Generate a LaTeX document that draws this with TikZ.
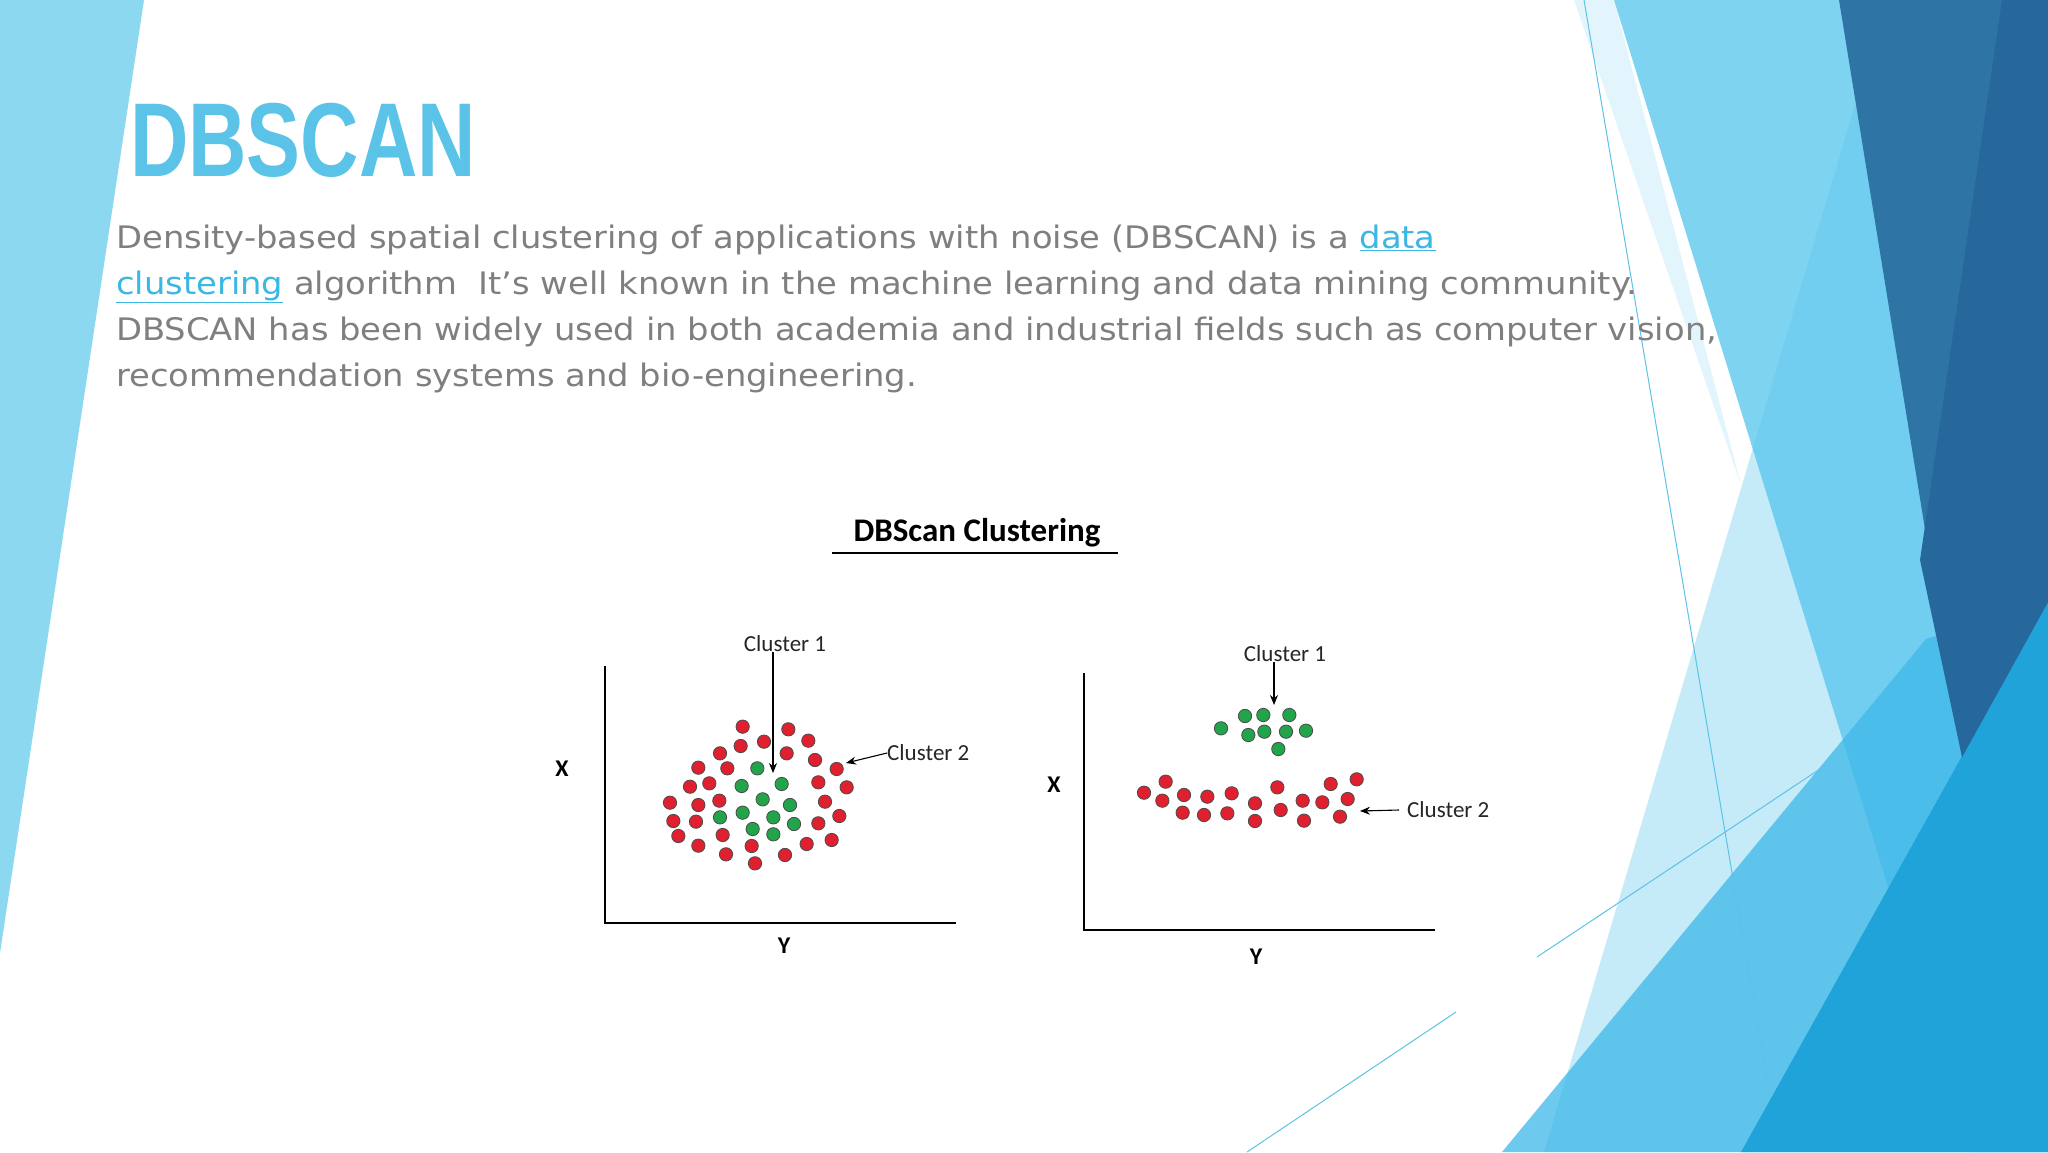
\documentclass[tikz,border=0pt]{standalone}
\usepackage{fontspec}
\setmainfont{DejaVu Sans}
\newfontfamily\headfont{Liberation Sans}
\newfontfamily\diafont{Carlito}
\usetikzlibrary{arrows.meta}
\definecolor{headblue}{HTML}{5BC3E8}
\definecolor{bodygray}{HTML}{7F7F7F}
\definecolor{linkblue}{HTML}{3BB7E4}
\definecolor{redd}{HTML}{E0202E}
\definecolor{greend}{HTML}{22A44A}
\tikzset{
  reddot/.style={fill=redd,draw=black!70,line width=0.8pt},
  greendot/.style={fill=greend,draw=black!70,line width=0.8pt},
  axis/.style={line width=2.6pt,black},
  arr/.style={-{Stealth[length=10pt,width=8pt]},line width=1.1pt},
  lbl/.style={font=\diafont\fontsize{23}{28}\selectfont,text=black!85,inner sep=0pt},
  axl/.style={font=\diafont\bfseries\fontsize{24}{28}\selectfont,inner sep=0pt},
  body/.style={anchor=base west,inner sep=0pt,text=bodygray,font=\fontsize{31}{36}\selectfont},
}
\newcommand{\widetxt}[1]{\scalebox{1.09}[1]{#1}}
\begin{document}
\begin{tikzpicture}[x=1pt,y=1pt,yscale=-1]
\useasboundingbox (0,0) rectangle (2048,1152);
\fill[white] (0,0) rectangle (2048,1152);
% left strip
\fill[fill={rgb,255:red,141;green,216;blue,241}] (0,0) -- (144,0) -- (0,953) -- cycle;
% right decorations
\fill[fill={rgb,255:red,227;green,245;blue,252}] (1574,0) -- (1614,0) -- (1741,485) -- cycle;
\fill[fill={rgb,255:red,197;green,234;blue,248}] (1886,0) -- (2048,0) -- (2048,1152) -- (1544,1152) -- cycle;
\fill[fill={rgb,255:red,94;green,200;blue,238},opacity=0.8] (1614,0) -- (2048,0) -- (2048,1152) -- (1970,1152) -- cycle;
\fill[fill={rgb,255:red,61;green,184;blue,232},opacity=0.75] (1502,1152) -- (1926,639) -- (2048,602) -- (2048,1152) -- cycle;
\fill[fill={rgb,255:red,31;green,163;blue,216}] (1741,1152) -- (2048,602) -- (2048,1152) -- cycle;
\fill[fill={rgb,255:red,46;green,117;blue,166}] (1839,0) -- (2048,0) -- (2048,602) -- (1962,757) -- cycle;
\fill[fill={rgb,255:red,38;green,103;blue,156}] (2002,0) -- (2048,0) -- (2048,602) -- (1962,757) -- (1920,560) -- cycle;
\coordinate (t1a) at (1584,0); \coordinate (t1b) at (1770,1097);
\coordinate (t2a) at (1537,957); \coordinate (t2b) at (1841,755);
\coordinate (t3a) at (1247,1152); \coordinate (t3b) at (1456,1012);
\draw[headblue,line width=1pt] (t1a) -- (t1b);
\draw[headblue,line width=1pt] (t2a) -- (t2b);
\draw[headblue,line width=1pt] (t3a) -- (t3b);
% heading
\node[anchor=base west,inner sep=0pt,text=headblue] (head) at (130,176)
  {\scalebox{0.77}[1]{\headfont\bfseries\fontsize{105}{110}\selectfont DBSCAN}};
% body
\node[body] (l1) at (116,248) {\widetxt{Density-based spatial clustering of applications with noise (DBSCAN) is a \textcolor{linkblue}{\underline{data}}}};
\node[body] (l2) at (116,294) {\widetxt{\textcolor{linkblue}{\underline{clustering}} algorithm\ \ It’s well known in the machine learning and data mining community.}};
\node[body] (l3) at (116,340) {\widetxt{DBSCAN has been widely used in both academia and industrial fields such as computer vision,}};
\node[body] (l4) at (116,386) {\widetxt{recommendation systems and bio-engineering.}};
% title
\node[font=\diafont\bfseries\fontsize{33}{36}\selectfont,inner sep=0pt] (title) at (977,533) {DBScan Clustering};
\coordinate (u1) at (832,553); \coordinate (u2) at (1118,553);
\draw[line width=2.6pt] (u1) -- (u2);
% left plot axes
\coordinate (o1) at (605,923); \coordinate (ya1) at (605,666); \coordinate (xa1) at (956,923);
\draw[axis] (ya1) -- (o1) -- (xa1);
\node[axl] (X1) at (562,769) {X};
\node[axl] (Y1) at (784,946) {Y};
% right plot axes
\coordinate (o2) at (1084,930); \coordinate (ya2) at (1084,673); \coordinate (xa2) at (1435,930);
\draw[axis] (ya2) -- (o2) -- (xa2);
\node[axl] (X2) at (1054,785) {X};
\node[axl] (Y2) at (1256,957) {Y};
% left dots
\begin{scope}[shift={(640,620)},scale=1/3]
\foreach \x/\y in {308/320,445/328,302/378,372/365,505/362,240/400,440/400,525/420,175/443,262/445,590/447,150/500,208/490,535/487,620/502,90/548,175/555,238/542,555/545,100/603,168/605,598/588,535/610,115/648,248/645,500/672,575/660,175/677,335/678,258/703,435/705,345/730}
  \filldraw[reddot] (\x,\y) circle[radius=20];
\foreach \x/\y in {352/445,305/498,425/492,368/538,450/555,240/592,308/578,400/592,462/612,338/627,400/643}
  \filldraw[greendot] (\x,\y) circle[radius=20];
\end{scope}
\node[lbl] (c1a) at (785,644) {Cluster 1};
\coordinate (c1aend) at (773,773);
\draw[arr] (c1a.south -| c1aend) -- (c1aend);
\node[lbl,anchor=west] (c2a) at (887,753) {Cluster 2};
\coordinate (c2aend) at (846,763);
\draw[arr] (c2a.west) -- (c2aend);
% right dots
\begin{scope}[shift={(1120,640)},scale=1/3]
\foreach \x/\y in {72/458,137/425,127/482,192/465,262/470,335/460,188/518,252/525,322/520,405/490,405/543,472/442,482/510,548/482,552/542,607/487,632/432,710/418,683/477,660/530}
  \filldraw[reddot] (\x,\y) circle[radius=20];
\foreach \x/\y in {303/265,375/228,430/225,508/225,385/285,433/275,498/275,558/272,475/327}
  \filldraw[greendot] (\x,\y) circle[radius=20];
\end{scope}
\node[lbl] (c1b) at (1285,654) {Cluster 1};
\coordinate (c1bend) at (1274,705);
\draw[arr] (c1b.south -| c1bend) -- (c1bend);
\node[lbl,anchor=west] (c2b) at (1407,810) {Cluster 2};
\coordinate (c2bend) at (1360,811);
\draw[arr] ([xshift=-8pt]c2b.west) -- (c2bend);
\end{tikzpicture}
\end{document}
